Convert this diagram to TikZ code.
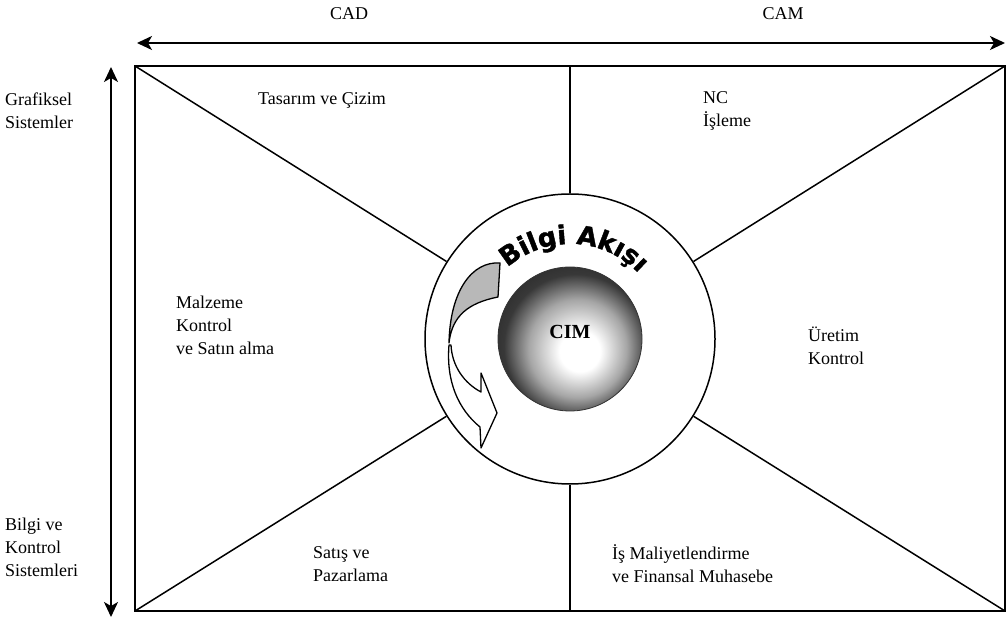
\documentclass[tikz,border=0pt]{standalone}
\usepackage{fontspec}
\setmainfont{Liberation Serif}
\newfontfamily\flowfont{DejaVu Sans}[BoldFeatures={FakeBold=1.6}]
\usetikzlibrary{arrows.meta,decorations.text,calc}
\newcommand\flowstyle{\flowfont\bfseries\fontsize{26}{30}\selectfont}
% sphere shading: bright core slightly below right, dark grey rim
\pgfdeclareradialshading{cimshade}{\pgfpoint{4bp}{-5bp}}{%
  color(0bp)=(white); color(7bp)=(white); color(17bp)=(black!35);
  color(25bp)=(black!78); color(50bp)=(black)}
\begin{document}
\begin{tikzpicture}[x=1pt,y=1pt,
  frame/.style={line width=1.8pt},
  divider/.style={line width=1.5pt},
  axisarrow/.style={line width=1.8pt,
    {Stealth[length=15pt,width=14pt,inset=4pt]}-{Stealth[length=15pt,width=14pt,inset=4pt]}},
  txt/.style={inner sep=0pt,font=\fontsize{18}{23}\selectfont,align=left,anchor=west},
  txtc/.style={txt,anchor=center,align=center},
  band/.style={line width=1.3pt,line join=round}]
\useasboundingbox (0,0) rectangle (1006,621);

% corners and centre of the grid
\coordinate (c)  at (570,282);
\coordinate (tl) at (135,555);
\coordinate (tr) at (1005,555);
\coordinate (bl) at (135,10);
\coordinate (br) at (1005,10);
\coordinate (tm) at (570,555);
\coordinate (bm) at (570,10);

% outer axes
\coordinate (axL) at (137,578);
\coordinate (axR) at (1005,578);
\coordinate (axT) at (111,554);
\coordinate (axB) at (111,4);
\draw[axisarrow] (axL) -- (axR);
\draw[axisarrow] (axT) -- (axB);

% frame, ring and dividers
\draw[frame] (tl) -- (tr) -- (br) -- (bl) -- cycle;
\node[circle,draw,line width=1.5pt,minimum size=290pt,inner sep=0pt,fill=white] (ring) at (c) {};
\draw[divider] (tl) -- (ring);
\draw[divider] (bl) -- (ring);
\draw[divider] (tr) -- (ring);
\draw[divider] (br) -- (ring);
\draw[divider] (tm) -- (ring);
\draw[divider] (bm) -- (ring);

% twisted flow ribbon: shaded back face on top, white front face with head below
\draw[band,fill=black!28] (500,358) .. controls (472,360) and (450,330) .. (449,278)
  .. controls (452,305) and (468,318) .. (498,324) -- cycle;
\draw[band,fill=white] (449,276) .. controls (446,240) and (458,212) .. (480,194)
  -- (481,173) -- (497,208) -- (481,248) -- (481,229)
  .. controls (464,238) and (452,255) .. (451,276) -- cycle;

% CIM sphere
\node[circle,shade,shading=cimshade,draw=black!80,line width=0.8pt,minimum size=144pt,inner sep=0pt] (cim) at (c) {};
\node[inner sep=0pt,font=\bfseries\fontsize{20}{24}\selectfont] (cimtext) at (570,289) {CIM};

% curved title
\path[decorate,decoration={text along path,text={|\flowstyle|Bilgi Akışı},text align=center}]
  ($(c)+(133:95)$) arc[start angle=133,end angle=42,radius=95];

% axis labels
\node[txtc] (cad) at (349,607) {CAD};
\node[txtc] (cam) at (783,607) {CAM};
\node[txt] (graf) at (5,510) {Grafiksel\\Sistemler};
\node[txt] (bks) at (5,74) {Bilgi ve\\Kontrol\\Sistemleri};

% sector labels
\node[txtc] (tas) at (322,521) {Tasarım ve Çizim};
\node[txt] (nc) at (703,510) {NC\\İşleme};
\node[txt] (malz) at (176,296) {Malzeme\\Kontrol\\ve Satın alma};
\node[txt] (uret) at (808,275) {Üretim\\Kontrol};
\node[txt] (sat) at (313,57) {Satış ve\\Pazarlama};
\node[txt] (is) at (612,57) {İş Maliyetlendirme\\ve Finansal Muhasebe};
\end{tikzpicture}
\end{document}
